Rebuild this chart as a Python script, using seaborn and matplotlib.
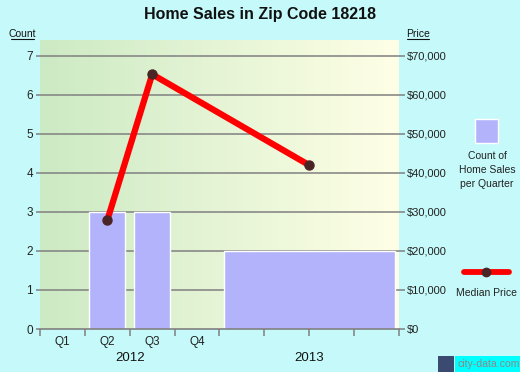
import numpy as np
import pandas as pd
import matplotlib
matplotlib.use("Agg")
import matplotlib.pyplot as plt
import seaborn as sns
from matplotlib.colors import LinearSegmentedColormap

sns.set_theme(style="white")
plt.rcParams['font.family'] = ['Liberation Sans', 'DejaVu Sans']

# ---- data ----
bar_labels = ["Q2 2012", "Q3 2012", "2013"]
bar_centers = [1.5, 2.5, 6.0]      # position in quarters from start of 2012
bar_widths = [0.8, 0.8, 3.8]
bar_counts = [3, 3, 2]

price_x = [1.5, 2.5, 6.0]
price_values = [27900, 65300, 42000]

quarter_labels = ["Q1", "Q2", "Q3", "Q4"]
year_labels = ["2012", "2013"]
count_ticks = [0, 1, 2, 3, 4, 5, 6, 7]
price_ticks = [0, 10000, 20000, 30000, 40000, 50000, 60000, 70000]

BG = "#C6FAFA"
W, H = 520, 372
fig = plt.figure(figsize=(W / 100, H / 100), dpi=100, facecolor=BG)
ax = fig.add_axes([40 / W, (H - 329) / H, 359 / W, 289 / H])
ymax = 7.41
ax.set_xlim(0, 8)
ax.set_ylim(0, ymax)

# gradient background
cmap = LinearSegmentedColormap.from_list("g", ["#CCEAC4", "#FFFFE6"])
grad = np.linspace(0, 1, 256).reshape(1, -1)
ax.imshow(grad, cmap=cmap, aspect="auto", extent=[0, 8, 0, ymax], zorder=0)

# gridlines
for t in count_ticks[1:]:
    ax.axhline(t, color="#808080", lw=1.1, zorder=1)

# bars
ax.bar(bar_centers, bar_counts, width=bar_widths, color="#B3B3FB",
       edgecolor="white", linewidth=1.0, zorder=2)

# price line on twin axis
ax2 = ax.twinx()
ax2.set_ylim(0, ymax * 10000)
df = pd.DataFrame({"x": price_x, "price": price_values})
sns.lineplot(data=df, x="x", y="price", ax=ax2, color="#FF0000", lw=4.5,
             zorder=3, solid_capstyle="butt")
ax2.plot(price_x, price_values, "o", color="#4A2525", ms=6.5, zorder=4)
ax2.set_xlim(0, 8)
ax2.set_xlabel("")
ax2.set_ylabel("")

for a in (ax, ax2):
    for s in a.spines.values():
        s.set_visible(False)
    a.grid(False)

ax.set_yticks(count_ticks)
ax.set_yticklabels([str(t) for t in count_ticks], fontsize=8.5, color="#222222")
ax.tick_params(axis="y", length=3, color="#808080", width=1.1, pad=2, left=True)
ax2.set_yticks(price_ticks)
ax2.set_yticklabels(["${:,}".format(t) for t in price_ticks], fontsize=8, color="#222222")
ax2.tick_params(axis="y", length=4.5, color="#808080", width=1.1, pad=0.8, right=True)

ax.set_xticks(np.arange(0, 9))
ax.set_xticklabels([])
ax.tick_params(axis="x", length=5, color="#808080", width=1.1, bottom=True)
ax.axhline(0, color="#808080", lw=1.2, zorder=5, clip_on=False)

for i, q in enumerate(quarter_labels):
    ax.text(i + 0.5, -0.33, q, ha="center", va="center", fontsize=8.5, color="#222222")
ax.text(2, -0.74, year_labels[0], ha="center", va="center", fontsize=9.5, color="#111111")
ax.text(6, -0.74, year_labels[1], ha="center", va="center", fontsize=9.5, color="#111111")

# title and axis captions
fig.text(260 / W, 1 - 15 / H, "Home Sales in Zip Code 18218", ha="center", va="center",
         fontsize=11.5, fontweight="bold", color="#111111")
fig.text(22 / W, 1 - 34 / H, "Count", ha="center", va="center", fontsize=7.5,
         color="#111111")
fig.add_artist(plt.Line2D([11 / W, 34 / W], [1 - 39 / H, 1 - 39 / H], color="#111111", lw=0.8))
fig.text(418 / W, 1 - 34 / H, "Price", ha="center", va="center", fontsize=7.5, color="#111111")
fig.add_artist(plt.Line2D([407 / W, 429 / W], [1 - 39 / H, 1 - 39 / H], color="#111111", lw=0.8))

# legend
fig.add_artist(plt.Rectangle((475 / W, 1 - 143 / H), 23 / W, 24 / H, facecolor="#B3B3FB",
                             edgecolor="white", lw=1.0))
fig.text(487 / W, 1 - 170 / H, "Count of\nHome Sales\nper Quarter", ha="center", va="center",
         fontsize=7.5, color="#222222", linespacing=1.55)
fig.add_artist(plt.Line2D([464 / W, 509 / W], [1 - 272 / H, 1 - 272 / H], color="#FF0000", lw=4.2))
fig.add_artist(plt.Line2D([486 / W], [1 - 272 / H], marker="o", color="#4A2525", ms=6))
fig.text(486 / W, 1 - 293 / H, "Median Price", ha="center", va="center", fontsize=7.5,
         color="#222222")

# watermark
fig.add_artist(plt.Rectangle((438 / W, 0), 16 / W, 16 / H, facecolor="#3A4A70", edgecolor="none"))
fig.add_artist(plt.Rectangle((455 / W, 0), 65 / W, 16 / H, facecolor="#00FFFF", edgecolor="none"))
fig.text(457 / W, 8 / H, "city-data.com", ha="left", va="center", fontsize=7.6,
         color="#8A8A8A")

fig.savefig("out.png", dpi=100, facecolor=BG)
